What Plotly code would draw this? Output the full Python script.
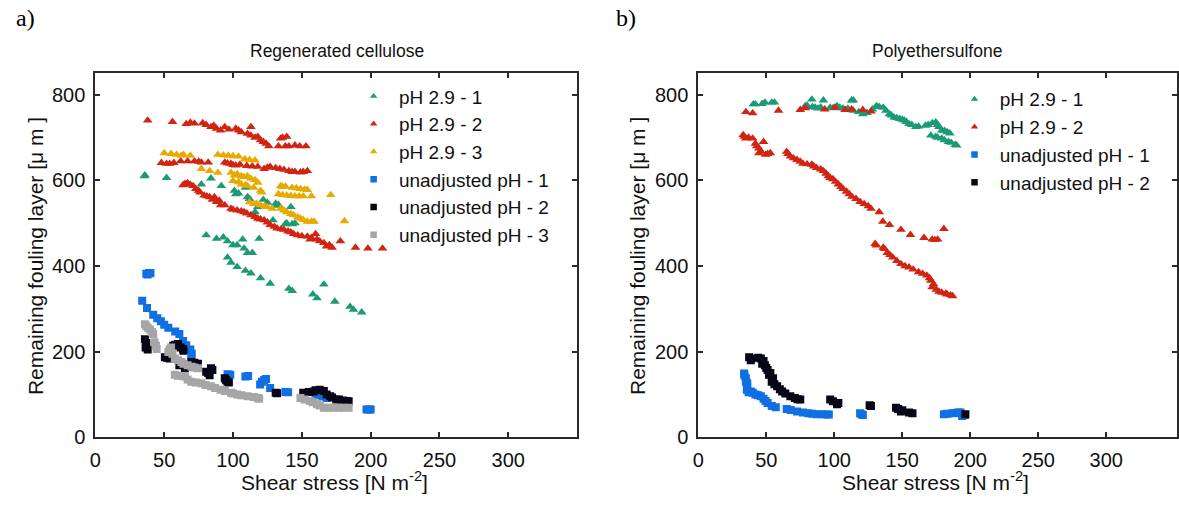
import plotly.graph_objects as go

# ---------------- data: left panel (Regenerated cellulose) ----------------
rc_ph29_1_x = [35.5, 51.7, 84, 77, 91.5, 101, 102, 109, 110.5, 122, 118, 116, 131, 132, 142, 129, 138, 143,
               80.5, 88, 93, 96, 100, 103, 107, 108, 110.5, 114, 119, 96, 98.5, 103, 109, 113,
               120, 127, 140.6, 143, 158, 161, 166, 174, 185, 187.5, 193.5,
               36, 104, 112, 125, 133, 145, 139]
rc_ph29_1_y = [610, 606, 605, 591, 587, 576, 568, 583, 561, 555, 538, 526, 546, 541, 538, 507, 498, 498,
               472, 464, 467, 458, 449, 449, 462, 441, 431, 431, 464, 420, 408, 398, 389, 383,
               372, 359, 347, 342, 334, 325, 357, 317, 305, 298, 292,
               612, 570, 557, 548, 543, 500, 500]

rc_ph29_2_x = [38, 56, 66, 69, 78, 80.5, 84, 88, 91, 94, 102, 104, 110.5, 113, 113, 118, 120, 124, 126,
               134.6, 139, 133, 138, 140.6, 148.5, 153,
               72, 86, 97, 106, 116, 122, 136, 145,
               48, 51.7, 54, 62, 67, 72, 77, 82, 94, 98.5, 102, 105, 114, 118, 122.6, 127, 131,
               137, 140.6, 145, 149, 154,
               57, 75, 96, 100, 110, 125, 134, 143, 151,
               63.7, 67, 71, 73, 76, 79, 83, 86.5, 90, 91, 94, 98.5, 103, 108, 113, 118, 122.6,
               127, 132, 137, 142, 144, 154, 156, 160, 161, 166, 168, 172, 178, 189, 198, 208.6,
               65, 69, 75, 81, 85, 88, 100, 106, 110, 116, 120, 125, 130, 135, 140, 147, 150, 157, 163, 170]
rc_ph29_2_y = [740, 737, 732, 735, 734, 730, 725, 721, 717, 725, 721, 717, 709, 725, 705, 702, 694, 686, 680,
               698, 702, 680, 680, 680, 680, 680,
               733, 728, 719, 713, 700, 690, 700, 682,
               641, 639, 639, 645, 645, 645, 642, 642, 642, 639, 635, 637, 633, 632, 627, 632, 629,
               625, 622, 620, 619, 622,
               641, 644, 640, 636, 634, 630, 627, 620, 620,
               589, 594, 587, 580, 572, 565, 561, 561, 553, 542, 542, 534, 530, 526, 519, 511, 507,
               496, 488, 485, 479, 475, 469, 462, 475, 462, 454, 446, 443, 458, 443, 441, 441,
               592, 590, 576, 563, 555, 550, 532, 528, 523, 515, 509, 502, 492, 486, 481, 472, 470, 466, 458, 449]

rc_ph29_3_x = [50, 55, 59, 62.5, 69, 89, 96.6, 104, 108.6, 116,
               77, 83, 89, 98.5, 101, 106, 110.5, 113, 118, 120,
               100, 106, 110.5, 115, 112, 115, 120, 125, 128.5,
               134.6, 138, 143, 149, 154, 133, 139, 145, 151, 157,
               134.6, 139, 144, 149, 154, 159, 171, 181,
               64, 93, 100, 112, 103, 108, 116, 121, 104, 109, 117, 123,
               136, 146, 152, 136, 142, 148, 137, 142, 147, 151, 157]
rc_ph29_3_y = [664, 662, 660, 658, 658, 660, 658, 656, 650, 647,
               627, 622, 618, 618, 612, 610, 610, 604, 595, 576,
               599, 591, 587, 583, 549, 545, 542, 538, 534,
               587, 586, 583, 580, 578, 568, 565, 563, 563, 563,
               534, 526, 519, 511, 504, 504, 566, 505,
               660, 659, 657, 648, 615, 608, 601, 572, 596, 589, 546, 540,
               585, 582, 579, 566, 564, 563, 530, 522, 514, 508, 504]

rc_unadj_1_x = [37, 39, 34, 37.5, 42, 47.6, 53, 61, 63.7, 69, 69.7, 96, 109, 122.6, 119.7, 127, 138,
                160, 168, 197, 200,
                38, 40, 45, 50, 58, 66, 70, 98, 111, 121, 124, 140, 162, 165, 199]
rc_unadj_1_y = [382, 384, 319, 302, 286, 271, 256, 241, 225, 205, 184, 147, 142, 134, 123, 115, 106,
                100, 92, 65, 65,
                380, 383, 278, 263, 247, 215, 195, 146, 143, 130, 136, 105, 98, 95, 65]

rc_unadj_2_x = [36, 36.5, 50.5, 54, 56.5, 60, 63.7, 61, 65, 69.7, 74.5, 80.5, 83, 84, 94, 96, 131,
                151, 158.6, 163, 170.6, 175, 182.6,
                37, 38, 52, 58, 62, 64, 67, 72, 82, 85, 95, 97, 132,
                155, 160, 166, 168, 172, 177, 180, 184]
rc_unadj_2_y = [229, 210, 187, 184, 214, 218, 206, 168, 161, 176, 172, 153, 145, 161, 138, 130, 104,
                104, 107, 111, 96, 88, 85,
                220, 205, 186, 216, 210, 202, 165, 174, 150, 157, 133, 128, 103,
                106, 110, 108, 100, 93, 88, 86, 84]

rc_unadj_3_x = [36, 39.6, 42, 43, 44.5, 53, 55, 57.7, 62.5, 67, 74.5, 57.7, 65, 69.7, 77, 84, 91, 98.5,
                103, 110.5, 118, 149, 156, 161, 166, 173, 180,
                37, 38, 41, 44, 54, 56, 60, 64, 70, 72, 60, 63, 67, 73, 80, 87, 94, 100, 106, 115, 119,
                152, 158, 163, 169, 177, 184]
rc_unadj_3_y = [264, 252, 241, 222, 206, 199, 210, 184, 176, 168, 161, 146, 142, 130, 126, 119, 111, 104,
                100, 96, 92, 92, 85, 77, 69, 69, 69,
                260, 256, 246, 214, 205, 195, 180, 172, 165, 163, 144, 143, 135, 128, 122, 115, 108, 102, 98, 94, 90,
                88, 82, 74, 69, 69, 69]

# ---------------- data: right panel (Polyethersulfone) ----------------
pes_ph29_1_x = [40.5, 47, 49, 56, 78.7, 83.5, 86, 92, 88, 97, 102, 106.5, 112.7, 114, 114,
                121, 131, 136, 138, 140.6, 144, 148, 151.5, 155, 160,
                167, 174.6, 177, 179, 183, 174.6, 179, 184, 189,
                42, 54, 80, 84, 90, 99, 104, 110, 118, 124, 128, 133, 142, 146, 150, 153, 157,
                162, 169, 172, 176, 181, 185, 176, 181, 186, 190, 171]
pes_ph29_1_y = [778, 779, 782, 782, 774, 789, 770, 787, 768, 770, 774, 768, 787, 787, 763,
                755, 774, 770, 763, 755, 747, 744, 740, 732, 725,
                728, 736, 725, 717, 713, 702, 698, 690, 683,
                778, 782, 775, 772, 771, 769, 770, 768, 760, 758, 766, 772, 752, 746, 742, 737, 730,
                726, 730, 734, 730, 716, 710, 700, 694, 688, 682, 705]

pes_ph29_2_x = [35, 40, 59, 75, 78.7, 93, 100.5, 108, 112.7, 121, 127,
                33, 35, 40, 42, 44.6, 48, 44.6, 49.5, 53,
                65, 67.7, 72.6, 77, 83.5, 87, 92, 95.6, 99, 103, 106.5, 111, 116, 122, 127,
                133, 135.7, 140.6, 149, 156, 166, 172, 180.6,
                130, 136, 139, 143, 149, 155, 162, 168, 171, 172, 177, 182, 185.5,
                34, 37, 43, 46, 51, 66, 70, 75, 80, 85, 90, 94, 97, 101, 105, 109, 113, 119, 125,
                174, 176, 131, 137, 141, 146, 152, 158, 165, 170, 173, 175, 179, 183, 187]
pes_ph29_2_y = [760, 757, 763, 765, 769, 766, 770, 765, 766, 765, 761,
                706, 698, 698, 686, 675, 690, 664, 660, 664,
                667, 656, 648, 639, 637, 629, 622, 610, 603, 591, 580, 568, 557, 545, 534,
                526, 504, 496, 485, 473, 466, 462, 487,
                452, 443, 431, 420, 405, 397, 386, 378, 366, 351, 340, 336, 332,
                702, 700, 680, 668, 662, 662, 652, 644, 638, 633, 626, 616, 606, 597, 585, 574, 562, 550, 540,
                461, 462, 448, 440, 426, 412, 400, 392, 382, 372, 358, 345, 338, 334, 330]

pes_unadj_1_x = [33.7, 35, 36, 35.7, 38.6, 42, 46, 49.5, 54, 65, 72.6, 81, 87, 94.5, 120,
                 180.6, 186.7, 192.8, 194,
                 34, 35, 36, 37, 40, 44, 48, 51, 57, 68, 77, 84, 91, 96, 119, 121, 183, 189, 191, 196]
pes_unadj_1_y = [149, 138, 126, 111, 107, 100, 96, 85, 73, 66, 60, 56, 54, 53, 54,
                 54, 56, 58, 50,
                 144, 130, 118, 105, 104, 98, 90, 80, 70, 64, 58, 55, 54, 53, 56, 52, 55, 57, 58, 52]

pes_unadj_2_x = [37.4, 38.6, 46, 47, 51, 52, 54, 58, 61.7, 67.7, 75, 97, 102, 126, 145.4, 149, 157.5, 196.4,
                 39, 44, 48, 49, 50, 53, 55, 56, 60, 64, 71, 73, 99, 103, 147, 150, 155, 127]
pes_unadj_2_y = [187, 180, 184, 172, 157, 146, 130, 119, 107, 96, 88, 88, 77, 75, 69, 60, 56, 54,
                 184, 186, 178, 168, 162, 150, 138, 124, 112, 102, 92, 89, 84, 80, 66, 63, 58, 73]

left_names = ["pH 2.9 - 1", "pH 2.9 - 2", "pH 2.9 - 3",
              "unadjusted pH - 1", "unadjusted pH - 2", "unadjusted pH - 3"]
right_names = ["pH 2.9 - 1", "pH 2.9 - 2", "unadjusted pH - 1", "unadjusted pH - 2"]

x_ticks = [0, 50, 100, 150, 200, 250, 300]
y_ticks = [0, 200, 400, 600, 800]

C_GREEN = "#1b9a76"
C_RED = "#d22412"
C_YELLOW = "#e8aa00"
C_BLUE = "#0f6fe3"
C_BLACK = "#060616"
C_GRAY = "#a6a6a6"

FONT = "Liberation Sans, Arial, sans-serif"

fig = go.Figure()

left_series = [
    (rc_ph29_1_x, rc_ph29_1_y, C_GREEN, "triangle-up"),
    (rc_ph29_2_x, rc_ph29_2_y, C_RED, "triangle-up"),
    (rc_ph29_3_x, rc_ph29_3_y, C_YELLOW, "triangle-up"),
    (rc_unadj_1_x, rc_unadj_1_y, C_BLUE, "square"),
    (rc_unadj_2_x, rc_unadj_2_y, C_BLACK, "square"),
    (rc_unadj_3_x, rc_unadj_3_y, C_GRAY, "square"),
]
right_series = [
    (pes_ph29_1_x, pes_ph29_1_y, C_GREEN, "triangle-up"),
    (pes_ph29_2_x, pes_ph29_2_y, C_RED, "triangle-up"),
    (pes_unadj_1_x, pes_unadj_1_y, C_BLUE, "square"),
    (pes_unadj_2_x, pes_unadj_2_y, C_BLACK, "square"),
]

def msize(sym):
    return 8.5 if sym == "triangle-up" else 8

for (xs, ys, col, sym), name in zip(left_series, left_names):
    fig.add_trace(go.Scatter(x=xs, y=ys, mode="markers", name=name, showlegend=False,
                             marker=dict(color=col, symbol=sym, size=msize(sym), line=dict(width=0)),
                             xaxis="x", yaxis="y"))
for (xs, ys, col, sym), name in zip(right_series, right_names):
    fig.add_trace(go.Scatter(x=xs, y=ys, mode="markers", name=name, showlegend=False,
                             marker=dict(color=col, symbol=sym, size=msize(sym), line=dict(width=0)),
                             xaxis="x2", yaxis="y2"))
# legend entries (smaller symbols, as in the reference)
for (xs, ys, col, sym), name in zip(left_series, left_names):
    fig.add_trace(go.Scatter(x=[None], y=[None], mode="markers", name="\u00a0" + name, legend="legend",
                             marker=dict(color=col, symbol=sym, size=6.5, line=dict(width=0)),
                             xaxis="x", yaxis="y"))
for (xs, ys, col, sym), name in zip(right_series, right_names):
    fig.add_trace(go.Scatter(x=[None], y=[None], mode="markers", name="\u00a0" + name, legend="legend2",
                             marker=dict(color=col, symbol=sym, size=6.5, line=dict(width=0)),
                             xaxis="x2", yaxis="y2"))

W, H = 1179, 506
def px(v):
    return v / W
def py(v):
    return (H - v) / H

axis_common = dict(
    showgrid=False, zeroline=False, showline=True, linecolor="#2a2a2a", linewidth=2,
    mirror="ticks", ticks="inside", ticklen=5, tickwidth=1.5, tickcolor="#2a2a2a",
    tickfont=dict(family=FONT, size=20, color="#111"), fixedrange=True,
)

fig.update_layout(
    width=W, height=H,
    margin=dict(l=0, r=0, t=0, b=0),
    paper_bgcolor="white", plot_bgcolor="white",
    xaxis=dict(domain=[px(90), px(575)], range=[0, 350], tickvals=x_ticks, anchor="y",
               ticklabelstandoff=4, **axis_common),
    yaxis=dict(domain=[py(447), py(75)], range=[0, 850], tickvals=y_ticks, anchor="x",
               ticklabelstandoff=4, **axis_common),
    xaxis2=dict(domain=[px(697), 1.0], range=[0, 352], tickvals=x_ticks, anchor="y2",
                ticklabelstandoff=4, **axis_common),
    yaxis2=dict(domain=[py(447), py(75)], range=[0, 850], tickvals=y_ticks, anchor="x2",
                ticklabelstandoff=4, **axis_common),
    legend=dict(x=px(350), y=py(79), xanchor="left", yanchor="top", bgcolor="rgba(0,0,0,0)",
                font=dict(family=FONT, size=19, color="#111"), tracegroupgap=0, itemsizing="trace"),
    legend2=dict(x=px(955), y=py(82), xanchor="left", yanchor="top", bgcolor="rgba(0,0,0,0)",
                 font=dict(family=FONT, size=19, color="#111"), tracegroupgap=0, itemsizing="trace"),
    annotations=[
        dict(text="a)", x=px(8), y=py(18), xref="paper", yref="paper", xanchor="left", yanchor="middle",
             showarrow=False, font=dict(family="Liberation Serif, Times New Roman, serif", size=24, color="#000")),
        dict(text="b)", x=px(612), y=py(18), xref="paper", yref="paper", xanchor="left", yanchor="middle",
             showarrow=False, font=dict(family="Liberation Serif, Times New Roman, serif", size=24, color="#000")),
        dict(text="Regenerated cellulose", x=px(333), y=py(52), xref="paper", yref="paper",
             xanchor="center", yanchor="middle", showarrow=False,
             font=dict(family=FONT, size=17.5, color="#111")),
        dict(text="Polyethersulfone", x=px(937), y=py(52), xref="paper", yref="paper",
             xanchor="center", yanchor="middle", showarrow=False,
             font=dict(family=FONT, size=17.5, color="#111")),
        dict(text="Shear stress [N m<sup>-2</sup>]", x=px(331), y=py(492), xref="paper", yref="paper",
             xanchor="center", yanchor="middle", showarrow=False,
             font=dict(family=FONT, size=21, color="#111")),
        dict(text="Shear stress [N m<sup>-2</sup>]", x=px(936), y=py(492), xref="paper", yref="paper",
             xanchor="center", yanchor="middle", showarrow=False,
             font=dict(family=FONT, size=21, color="#111")),
        dict(text="Remaining fouling layer [\u03bc m ]", x=px(30), y=py(262), xref="paper", yref="paper",
             xanchor="center", yanchor="middle", textangle=-90, showarrow=False,
             font=dict(family=FONT, size=21, color="#111")),
        dict(text="Remaining fouling layer [\u03bc m ]", x=px(636), y=py(262), xref="paper", yref="paper",
             xanchor="center", yanchor="middle", textangle=-90, showarrow=False,
             font=dict(family=FONT, size=21, color="#111")),
    ],
)

fig.write_html("out.html")
